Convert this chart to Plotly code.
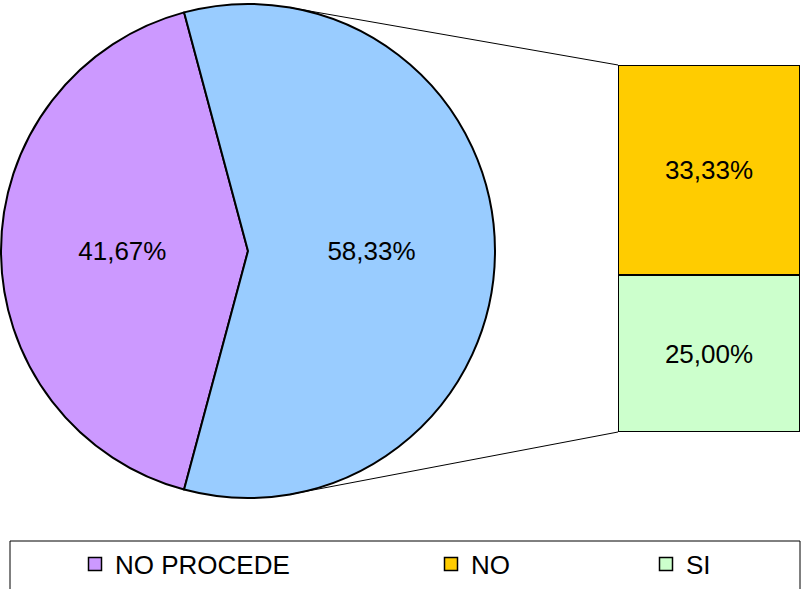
import plotly.graph_objects as go
import math

# ---- data ----
pie_labels = ["NO PROCEDE", "Otros"]
pie_values = [41.67, 58.33]
pie_colors = ["#CC99FF", "#99CCFF"]

bar_labels = ["SI", "NO"]          # bottom to top
bar_values = [25.00, 33.33]
bar_colors = ["#CCFFCC", "#FFCC00"]

legend_labels = ["NO PROCEDE", "NO", "SI"]
legend_colors = ["#CC99FF", "#FFCC00", "#CCFFCC"]

W, H = 801, 589
FONT = "Arial, Liberation Sans, sans-serif"

# ---- geometry (pixels) ----
cx, cy, r = 248, 251, 247
bar_x0, bar_x1, bar_y0, bar_y1 = 618, 800, 65, 432

def px(x):
    return x / W

def py(y):
    return 1 - y / H

fig = go.Figure()

fig.add_trace(go.Pie(
    labels=pie_labels, values=pie_values, sort=False,
    direction="clockwise", rotation=195,
    marker=dict(colors=pie_colors, line=dict(color="black", width=2)),
    texttemplate="%{percent:.2%}", textposition="inside",
    insidetextorientation="horizontal",
    textfont=dict(family=FONT, size=26, color="black"),
    domain=dict(x=[px(cx - r), px(cx + r)], y=[py(cy + r), py(cy - r)]),
    showlegend=False, hoverinfo="label+percent",
))

for lab, val, col in zip(bar_labels, bar_values, bar_colors):
    fig.add_trace(go.Bar(
        x=[0], y=[val], name=lab, width=1,
        marker=dict(color=col, line=dict(color="black", width=2)),
        texttemplate="%{y:.2f}%", textposition="inside",
        insidetextanchor="middle",
        textfont=dict(family=FONT, size=26, color="black"),
        cliponaxis=False, showlegend=False,
    ))

legend_x = [75, 431, 646]
for i, (lab, col) in enumerate(zip(legend_labels, legend_colors)):
    key = "legend" if i == 0 else f"legend{i+1}"
    fig.add_trace(go.Scatter(
        x=[None], y=[None], mode="markers", name=lab,
        marker=dict(symbol="square", size=13, color=col,
                    line=dict(color="black", width=1.5)),
        legend=key, showlegend=True,
    ))
    fig.update_layout(**{key: dict(
        x=px(legend_x[i]), y=py(564), xanchor="left", yanchor="middle",
        orientation="h", bgcolor="rgba(0,0,0,0)", borderwidth=0,
        font=dict(family=FONT, size=26, color="black"), itemwidth=30,
    )})

# connector lines from pie edge to bar corners
tx = 290
dy = math.sqrt(r * r - (tx - cx) ** 2)
shapes = [
    dict(type="line", xref="paper", yref="paper",
         x0=px(tx), y0=py(cy - dy), x1=px(bar_x0), y1=py(bar_y0),
         line=dict(color="black", width=1)),
    dict(type="line", xref="paper", yref="paper",
         x0=px(tx), y0=py(cy + dy), x1=px(bar_x0), y1=py(bar_y1),
         line=dict(color="black", width=1)),
    dict(type="rect", xref="paper", yref="paper",
         x0=px(10), x1=px(800), y0=py(600), y1=py(541),
         line=dict(color="black", width=1), fillcolor="rgba(0,0,0,0)"),
]

fig.update_layout(
    width=W, height=H, margin=dict(l=0, r=0, t=0, b=0),
    paper_bgcolor="white", plot_bgcolor="rgba(0,0,0,0)",
    separators=",.", barmode="stack", bargap=0,
    xaxis=dict(domain=[px(bar_x0), px(bar_x1)], range=[-0.5, 0.5],
               visible=False, fixedrange=True),
    yaxis=dict(domain=[py(bar_y1), py(bar_y0)], range=[0, sum(bar_values)],
               visible=False, fixedrange=True),
    shapes=shapes, showlegend=True,
)

fig.write_html(
    "out.html",
    config={"displayModeBar": False},
    post_script="document.body.style.margin='0';document.body.style.overflow='hidden';",
)
